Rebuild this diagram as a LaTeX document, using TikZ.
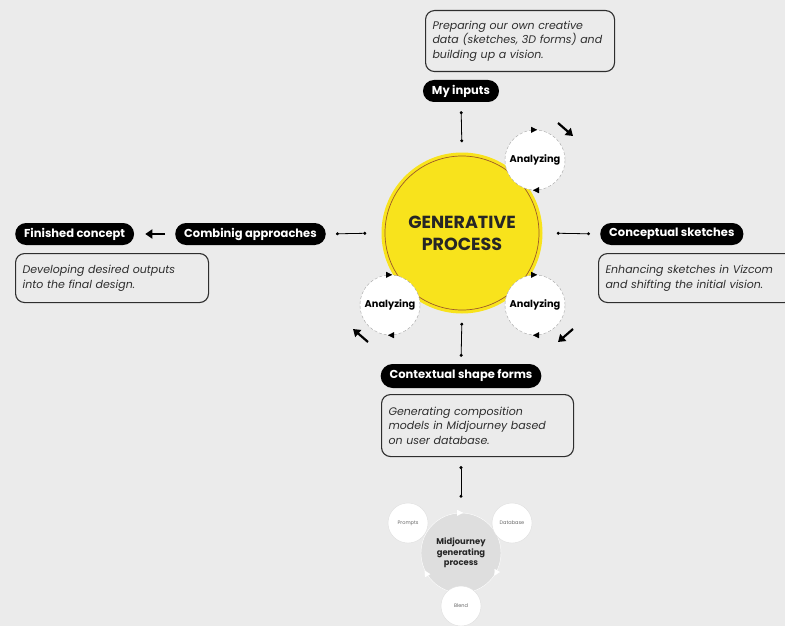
\documentclass[tikz,border=0pt]{standalone}
\usepackage{fontspec}
\setmainfont{Poppins}
\usepackage{tikz}
\usetikzlibrary{positioning,shapes,arrows.meta}

\definecolor{bggray}{HTML}{EBEBEB}
\definecolor{genyellow}{HTML}{F8E31C}
\definecolor{ringbrown}{HTML}{9C5A2A}
\definecolor{boxline}{HTML}{2E2E2E}
\definecolor{mjgray}{HTML}{DEDEDE}

\tikzset{
  pill/.style={fill=black, text=white, rounded corners=11pt, inner xsep=9pt, minimum height=22pt,
    font=\fontsize{11.5}{13}\selectfont\bfseries},
  note/.style={draw=boxline, line width=1.1pt, rounded corners=9pt, anchor=north west, inner xsep=7pt,
    align=left, text width=#1, font=\fontsize{11}{14.5}\selectfont\itshape, text=boxline},
  analyze/.style={circle, fill=white, draw=gray!70, dash pattern=on 3pt off 2pt, minimum size=60pt,
    inner sep=0pt, font=\fontsize{9.8}{11}\selectfont\bfseries},
  turn/.style={-{Triangle[length=6pt,width=6pt]}, line width=0.1pt},
  spin/.style={-{Triangle[length=7pt,width=9pt]}, line width=2.2pt},
  link/.style={{Circle[length=3pt]}-{Circle[length=3pt]}, line width=0.8pt, shorten <=9pt, shorten >=10pt},
  ingredient/.style={circle, fill=white, draw=gray!25, minimum size=40pt, inner sep=0pt,
    text=gray!80!black, font=\fontsize{5}{6}\selectfont}
}

\begin{document}
\begin{tikzpicture}[x=1pt, y=-1pt]

\fill[bggray] (0,0) rectangle (785,626);
\useasboundingbox (0,0) rectangle (785,626);

% Central circle
\node[circle, fill=genyellow, minimum size=161pt, inner sep=0pt] (gen) at (462,233) {};
\draw[ringbrown, line width=0.7pt] (gen.center) circle [radius=77pt];
\node[align=center, text=black!85, font=\fontsize{17.5}{22}\selectfont\bfseries] (gentext) at (gen.center) {GENERATIVE\\PROCESS};

% Analyzing loops
\node[analyze] (an1) at (535,160) {Analyzing};
\node[analyze] (an2) at (390,305) {Analyzing};
\node[analyze] (an3) at (535,305) {Analyzing};
\foreach \a in {an1,an2,an3} {
  \draw[turn] ([xshift=-3pt]\a.north) -- ([xshift=2pt]\a.north);
  \draw[turn] ([xshift=3pt]\a.south) -- ([xshift=-2pt]\a.south);
}
\draw[spin] (558,123) -- (573,136);
\draw[spin] (573,329) -- (558,342);
\draw[spin] (368,342) -- (353,329);

% Steps
\node[pill] (myin) at (461,91) {My inputs};
\node[pill, anchor=west] (finished) at (15,234) {Finished concept};
\node[pill, anchor=west] (combine) at (175,234) {Combinig approaches};
\node[pill, anchor=west] (concept) at (600,234) {Conceptual sketches};
\node[pill, minimum height=24pt, rounded corners=12pt] (context) at (461,376) {Contextual shape forms};

% Notes
\node[note=175pt, minimum height=61pt] (innote) at (425,10)
  {Preparing our own creative\\data (sketches, 3D forms) and\\building up a vision.};
\node[note=179pt, minimum height=49pt] (finnote) at (15,253)
  {Developing desired outputs\\into the final design.};
\node[note=181pt, minimum height=49pt] (conceptnote) at (598,253)
  {Enhancing sketches in Vizcom\\and shifting the initial vision.};
\node[note=178pt, minimum height=62pt] (contextnote) at (381,394)
  {Generating composition\\models in Midjourney based\\on user database.};

% Connectors
\draw[link] (myin.south) -- (gen.north);
\draw[link, shorten <=14pt] (gen.east) -- (concept.west);
\draw[link, shorten >=7pt] (gen.south) -- (context.north);
\draw[link, shorten <=15pt] (gen.west) -- (combine.east);
\draw[spin, shorten <=10pt, shorten >=11pt] (combine.west) -- (finished.east);

% Midjourney loop
\node[circle, fill=mjgray, draw=white, line width=0.4pt, minimum size=80pt, inner sep=0pt] (mj) at (461,553) {};
\draw[link, shorten >=15pt] (contextnote.south -| mj.north) -- (mj.north);
\draw[turn, white] ([xshift=-3pt]mj.north) -- ([xshift=2pt]mj.north);
\draw[turn, white] (mj.-30) -- ++(-120:3pt);
\draw[turn, white] (mj.210) -- ++(120:3pt);
\node[ingredient] (prompts) at (408,523) {Prompts};
\node[ingredient] (database) at (512,523) {Database};
\node[ingredient] (blend) at (461,606) {Blend};
\node[align=center, text=black!85, font=\fontsize{8.4}{10.5}\selectfont\bfseries] (mjtext) at (mj.center)
  {Midjourney\\generating\\process};

\end{tikzpicture}
\end{document}
